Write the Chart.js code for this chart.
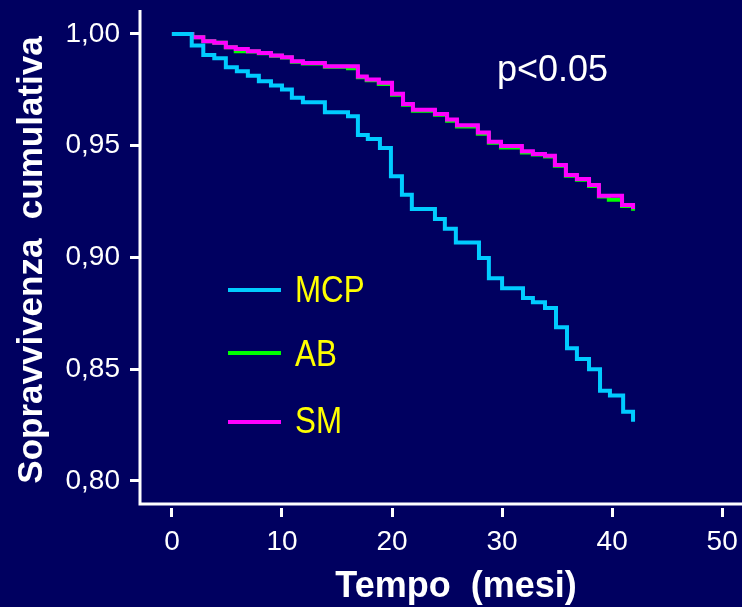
<!DOCTYPE html>
<html>
<head>
<meta charset="utf-8">
<script src="https://cdn.jsdelivr.net/npm/chart.js@4.4.0/dist/chart.umd.min.js"></script>
<style>
html, body { margin:0; padding:0; background:#000060; }
#wrap { width:742px; height:607px; }
</style>
</head>
<body>
<div id="wrap"><canvas id="km" width="742" height="607"></canvas></div>
<script>
// curve di Kaplan-Meier (tempo in mesi, sopravvivenza)
var mcpTime = [0, 1.8, 2.85, 3.85, 4.9, 5.9, 6.9, 7.9, 9, 10, 10.9, 11.9, 13.9, 16, 16.9, 17.8, 18.9, 19.9, 20.9, 21.8,
               23.9, 24.8, 25.8, 27.9, 28.8, 30, 31.9, 32.8, 33.9, 34.9, 35.9, 36.8, 37.9, 38.9, 39.8, 41, 41.9];
var mcpSurv = [1.0, 0.9948, 0.9906, 0.9891, 0.9851, 0.9833, 0.9813, 0.9788, 0.9769, 0.9751, 0.9714, 0.9694, 0.9650,
               0.9632, 0.9548, 0.9530, 0.9490, 0.9363, 0.9280, 0.9217, 0.9172, 0.9128, 0.9067, 0.8997, 0.8907, 0.8862,
               0.8818, 0.8800, 0.8774, 0.8688, 0.8594, 0.8546, 0.8500, 0.8404, 0.8382, 0.8310, 0.8265];

var smTime = [0, 1.85, 2.85, 3.85, 4.9, 5.8, 6.9, 7.9, 9, 10, 10.9, 11.9, 13.9, 16.9, 17.7, 18.8, 20, 21, 21.9, 23.9,
              25, 25.9, 27.8, 28.8, 29.9, 31.8, 32.8, 33.9, 34.8, 35.8, 36.8, 37.9, 38.8, 40.9, 41.9];
var smSurv = [1.0, 0.9985, 0.9967, 0.9960, 0.9940, 0.9933, 0.9923, 0.9915, 0.9903, 0.9896, 0.9878, 0.9870, 0.9855,
              0.9810, 0.9796, 0.9781, 0.9732, 0.9687, 0.9661, 0.9642, 0.9617, 0.9591, 0.9559, 0.9518, 0.9498, 0.9475,
              0.9463, 0.9455, 0.9414, 0.9369, 0.9351, 0.9324, 0.9276, 0.9235, 0.9217];

var abTime = [0, 1.85, 2.85, 3.85, 4.9, 5.8, 6.9, 7.9, 9, 10, 10.9, 11.9, 13.9, 16, 16.9, 17.7, 18.8, 20, 21, 21.9, 23.9,
              25, 25.9, 27.8, 28.8, 29.9, 31.8, 32.8, 33.9, 34.8, 35.8, 36.8, 37.9, 38.8, 39.7, 40.9, 41.9];
var abSurv = [1.0, 0.9985, 0.9967, 0.9960, 0.9940, 0.9923, 0.9921, 0.9913, 0.9902, 0.9894, 0.9876, 0.9868, 0.9853,
              0.9846, 0.9806, 0.9793, 0.9776, 0.9728, 0.9683, 0.9656, 0.9638, 0.9612, 0.9586, 0.9553, 0.9513, 0.9492,
              0.9470, 0.9460, 0.9452, 0.9410, 0.9365, 0.9347, 0.9320, 0.9273, 0.9258, 0.9230, 0.9209];

var xTicks = [0, 10, 20, 30, 40, 50];
var yTicks = [0.80, 0.85, 0.90, 0.95, 1.00];

var seriesNames = ['MCP', 'AB', 'SM'];
var seriesColors = ['#00CCFF', '#00FF00', '#FF00FF'];
var pText = 'p<0.05';

function toPoints(t, s) {
  var pts = [];
  for (var i = 0; i < t.length; i++) pts.push({x: t[i], y: s[i]});
  return pts;
}

// assi, legenda e titoli disegnati a mano
var decorPlugin = {
  id: 'decor',
  afterDraw: function (chart) {
    var ctx = chart.ctx;
    var area = chart.chartArea;
    ctx.save();
    ctx.strokeStyle = '#ffffff';
    ctx.lineWidth = 3;
    ctx.beginPath();
    ctx.moveTo(area.left, area.top);
    ctx.lineTo(area.left, 505);
    ctx.moveTo(area.left - 1.5, 504);
    ctx.lineTo(742, 504);
    ctx.stroke();

    // legenda (testo un po' stretto come nell'originale)
    var lineY = [290, 353, 422];
    var textY = [302, 366, 433];
    ctx.lineWidth = 4;
    ctx.textAlign = 'left';
    ctx.textBaseline = 'alphabetic';
    for (var i = 0; i < seriesNames.length; i++) {
      ctx.strokeStyle = seriesColors[i];
      ctx.beginPath();
      ctx.moveTo(228, lineY[i]);
      ctx.lineTo(281, lineY[i]);
      ctx.stroke();
      ctx.save();
      ctx.translate(295, textY[i]);
      ctx.scale(0.87, 1);
      ctx.font = '36px "Liberation Sans", Arial, sans-serif';
      ctx.fillStyle = '#FFFF00';
      ctx.fillText(seriesNames[i], 0, 0);
      ctx.restore();
    }

    ctx.fillStyle = '#ffffff';
    ctx.font = '36px "Liberation Sans", Arial, sans-serif';
    ctx.fillText(pText, 497, 81);

    // titoli degli assi
    ctx.font = 'bold 36px "Liberation Sans", Arial, sans-serif';
    ctx.textAlign = 'center';
    ctx.fillText('Tempo  (mesi)', 456, 597);

    ctx.translate(42, 260);
    ctx.rotate(-Math.PI / 2);
    ctx.font = 'bold 35px "Liberation Sans", Arial, sans-serif';
    ctx.fillText('Sopravvivenza  cumulativa', 0, 0);
    ctx.restore();
  }
};

var tickFont = {family: '"Liberation Sans", Arial, sans-serif', size: 28};

new Chart(document.getElementById('km').getContext('2d'), {
  type: 'line',
  data: {
    datasets: [
      {label: 'MCP', data: toPoints(mcpTime, mcpSurv), borderColor: seriesColors[0]},
      {label: 'SM', data: toPoints(smTime, smSurv), borderColor: seriesColors[2]},
      {label: 'AB', data: toPoints(abTime, abSurv), borderColor: seriesColors[1]}
    ]
  },
  options: {
    responsive: false,
    animation: false,
    devicePixelRatio: 1,
    layout: {padding: {top: 10, left: 0, right: 0, bottom: 0}},
    elements: {
      point: {radius: 0},
      line: {borderWidth: 4, stepped: true, fill: false, borderJoinStyle: 'miter', borderCapStyle: 'butt'}
    },
    plugins: {legend: {display: false}, tooltip: {enabled: false}},
    scales: {
      x: {
        type: 'linear', min: -2.9, max: 51.8,
        afterBuildTicks: function (s) { s.ticks = xTicks.map(function (v) { return {value: v}; }); },
        afterFit: function (s) { s.height = 99; s.paddingLeft = 0; s.paddingRight = 0; },
        border: {display: false},
        grid: {drawOnChartArea: false, tickLength: 9, color: '#ffffff', lineWidth: 3},
        ticks: {color: '#ffffff', font: tickFont, padding: 8, maxRotation: 0, autoSkip: false}
      },
      y: {
        type: 'linear', min: 0.7879, max: 1.0107,
        afterBuildTicks: function (s) { s.ticks = yTicks.map(function (v) { return {value: v}; }); },
        afterFit: function (s) { s.width = 140; s.paddingTop = 0; s.paddingBottom = 0; },
        border: {display: false},
        grid: {drawOnChartArea: false, tickLength: 10, color: '#ffffff', lineWidth: 3},
        ticks: {
          color: '#ffffff', font: tickFont, padding: 10, autoSkip: false,
          callback: function (v) { return v.toFixed(2).replace('.', ','); }
        }
      }
    }
  },
  plugins: [decorPlugin]
});
</script>
</body>
</html>
